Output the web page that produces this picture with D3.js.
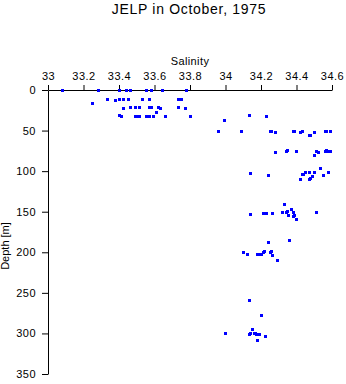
<!DOCTYPE html>
<html>
<head>
<meta charset="utf-8">
<script src="https://cdn.jsdelivr.net/npm/d3@7"></script>
<style>
  html, body { margin: 0; padding: 0; background: #fff; }
  svg { display: block; font-family: "Liberation Sans", Arial, Helvetica, sans-serif; }
</style>
</head>
<body>
<svg id="chart" width="346" height="384"></svg>
<script>
// Salinity / depth profile samples (JELP cruise, October 1975)
const salinity = [
  33.08, 33.28, 33.40, 33.44, 33.46, 33.55, 33.58, 33.64, 33.78,
  33.33, 33.38, 33.40, 33.42, 33.45, 33.53, 33.57, 33.73, 33.75, 33.25,
  33.42, 33.46, 33.49, 33.51, 33.57, 33.58, 33.62, 33.63, 33.73, 33.77, 33.61,
  33.40, 33.41, 33.49, 33.50, 33.51, 33.55, 33.57, 33.59, 33.66, 33.80,
  33.99, 34.13, 34.23,
  33.96, 34.09, 34.25, 34.255, 34.28, 34.38, 34.385, 34.42, 34.43, 34.47, 34.475,
  34.50, 34.56, 34.565, 34.59,
  34.28, 34.34, 34.345, 34.40, 34.50, 34.51, 34.52, 34.56, 34.565, 34.57, 34.59,
  34.14, 34.24, 34.43, 34.435, 34.45, 34.47, 34.49, 34.50, 34.53, 34.55, 34.58,
  34.42, 34.47, 34.475,
  34.33, 34.37, 34.38, 34.14, 34.21, 34.215, 34.23, 34.26, 34.32, 34.34, 34.345,
  34.35, 34.38, 34.385, 34.40, 34.51,
  34.24, 34.36,
  34.10, 34.12, 34.18, 34.19, 34.20, 34.21, 34.215, 34.25, 34.255, 34.26, 34.29,
  34.13, 34.20, 34.15,
  34.00, 34.13, 34.14, 34.16, 34.165, 34.17, 34.19, 34.22, 34.18
];
const depth = [
  0, 0, 0, 0, 0, 0, 0, 0, 0,
  11, 12.5, 11, 11, 11, 11, 11, 11, 11, 16,
  22.5, 21, 21, 21, 21, 21, 21, 22, 21, 22, 27,
  31, 32.5, 31.5, 32.5, 31.5, 31.5, 31.5, 32.5, 31.5, 31.5,
  37, 31, 31.5,
  51, 51, 51, 50, 52, 51, 50, 52, 51, 56, 55,
  52, 51, 50, 50,
  77, 75.5, 74.5, 75.5, 80.5, 75.5, 77, 75.5, 74.5, 75.5, 75.5,
  102, 105, 104, 103, 101.5, 101.5, 105.5, 101.5, 96, 105, 101.5,
  110, 110, 109,
  141, 147, 150, 153, 152, 151, 152, 152, 150.5, 150.5, 149.5,
  154.5, 155.5, 154.5, 159, 150.5,
  187, 185,
  200, 201.5, 201.5, 201.5, 202.5, 200, 199, 200, 199, 203.5, 209,
  259, 277, 294.5,
  300, 301, 300, 300, 299, 301, 301, 303.5, 308.5
];

const xTicks = [33, 33.2, 33.4, 33.6, 33.8, 34, 34.2, 34.4, 34.6];
const xTickLabels = ["33", "33.2", "33.4", "33.6", "33.8", "34", "34.2", "34.4", "34.6"];
const yTicks = [0, 50, 100, 150, 200, 250, 300, 350];

const title = "JELP in October, 1975";
const xTitle = "Salinity";
const yTitle = "Depth [m]";

const svg = d3.select("#chart");

const x = d3.scaleLinear().domain([33, 34.6]).range([48, 332]);
const y = d3.scaleLinear().domain([0, 350]).range([90, 374]);

// top salinity axis
const xAxis = svg.append("g")
  .attr("transform", `translate(0,${y(0)})`)
  .call(d3.axisTop(x)
    .tickValues(xTicks)
    .tickFormat((d, i) => xTickLabels[i])
    .tickSize(5)
    .tickSizeOuter(0)
    .tickPadding(5));

// left depth axis
const yAxis = svg.append("g")
  .attr("transform", `translate(${x(33)},0)`)
  .call(d3.axisLeft(y)
    .tickValues(yTicks)
    .tickSize(6)
    .tickSizeOuter(0)
    .tickPadding(6));

[xAxis, yAxis].forEach(g => {
  g.selectAll("path, line").attr("stroke", "#000").attr("stroke-width", 1);
  g.selectAll("text")
    .attr("fill", "#000")
    .style("font-size", "11px")
    .style("letter-spacing", "0.5px");
});

// sample markers
const pts = salinity.map((s, i) => ({ s, d: depth[i] }));
svg.append("g")
  .attr("fill", "#0000ff")
  .attr("shape-rendering", "crispEdges")
  .selectAll("rect")
  .data(pts)
  .join("rect")
  .attr("x", p => Math.round(x(p.s)) - 1)
  .attr("y", p => Math.round(y(p.d)) - 1)
  .attr("width", 3)
  .attr("height", 3);

// titles
svg.append("text")
  .attr("x", 189)
  .attr("y", 14)
  .attr("text-anchor", "middle")
  .style("font-size", "14px")
  .style("letter-spacing", "0.7px")
  .attr("fill", "#000")
  .text(title);

svg.append("text")
  .attr("x", 190)
  .attr("y", 65)
  .attr("text-anchor", "middle")
  .style("font-size", "11px")
  .style("letter-spacing", "0.4px")
  .attr("fill", "#000")
  .text(xTitle);

svg.append("text")
  .attr("transform", "translate(9,246) rotate(-90)")
  .attr("text-anchor", "middle")
  .style("font-size", "11px")
  .attr("fill", "#000")
  .text(yTitle);
</script>
</body>
</html>
